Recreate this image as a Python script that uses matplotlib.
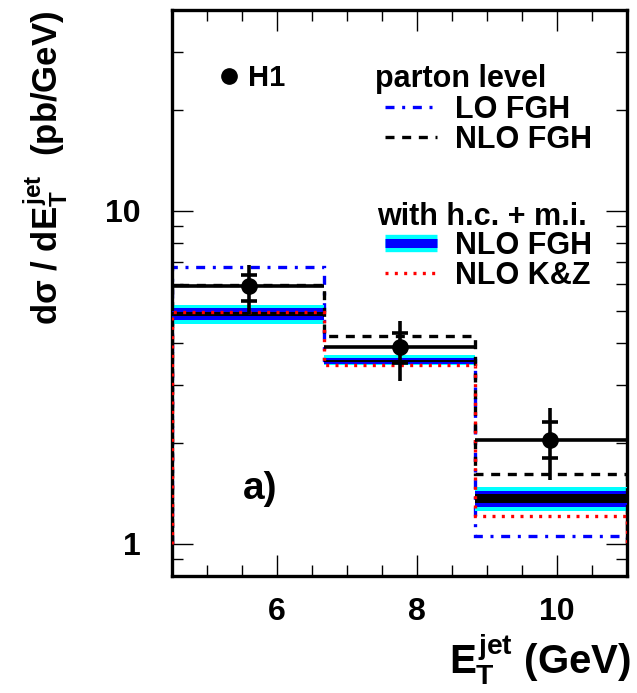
import matplotlib
matplotlib.use('Agg')
import matplotlib.pyplot as plt
from matplotlib.lines import Line2D
from matplotlib.legend_handler import HandlerTuple
from matplotlib.ticker import FixedLocator, LogLocator, NullFormatter, MultipleLocator

plt.rcParams['font.family'] = 'Liberation Sans'
plt.rcParams['font.weight'] = 'bold'
plt.rcParams['mathtext.fontset'] = 'custom'
plt.rcParams['mathtext.rm'] = 'Liberation Sans:bold'
plt.rcParams['mathtext.it'] = 'Liberation Sans:bold'
plt.rcParams['mathtext.bf'] = 'Liberation Sans:bold'

# bins in E_T^jet (GeV)
edges = [4.5, 6.67, 8.83, 11.0]

# H1 data
h1_x = [5.6, 7.75, 9.9]
h1_y = [5.92, 3.88, 2.05]
h1_stat_lo = [5.36, 3.48, 1.81]
h1_stat_hi = [6.42, 4.29, 2.31]
h1_tot_lo = [4.89, 3.07, 1.55]
h1_tot_hi = [6.88, 4.66, 2.55]

# parton level
lo_fgh = [6.77, 3.55, 1.053]
nlo_fgh = [5.98, 4.20, 1.62]

# with h.c. + m.i.
band_out_lo = [4.57, 3.44, 1.25]
band_out_hi = [5.20, 3.68, 1.48]
band_mid_lo = [4.69, 3.47, 1.29]
band_mid_hi = [5.08, 3.62, 1.44]
band_in_lo = [4.83, 3.51, 1.32]
band_in_hi = [4.97, 3.56, 1.41]
nlo_kz = [4.97, 3.43, 1.207]

fig = plt.figure(figsize=(6.37, 6.93), dpi=100)
ax = fig.add_axes([0.2705, 0.169, 0.7135, 0.8166])

lw = 2.4
ax.stairs(lo_fgh, edges, baseline=1, color='#0000ff', lw=lw,
          linestyle=(0, (2.7, 2.3, 0.9, 2.3)), zorder=2)
ax.stairs(band_out_hi, edges, baseline=band_out_lo, fill=True, color='#00ffff', lw=0, zorder=3)
ax.stairs(band_mid_hi, edges, baseline=band_mid_lo, fill=True, color='#0000ff', lw=0, zorder=3)
ax.stairs(band_in_hi, edges, baseline=band_in_lo, fill=True, color='black', lw=0, zorder=3)
ax.stairs(nlo_fgh, edges, baseline=1, color='black', lw=lw,
          linestyle=(0, (2.7, 2.3)), zorder=4)
ax.stairs(nlo_kz, edges, baseline=1, color='#ff0000', lw=lw,
          linestyle=(0, (0.9, 1.9)), zorder=4)

# data: horizontal bars over the bin, total and stat errors
xlo = [x - e for x, e in zip(h1_x, edges[:-1])]
xhi = [e - x for x, e in zip(h1_x, edges[1:])]
ax.errorbar(h1_x, h1_y, xerr=[xlo, xhi], fmt='none', ecolor='black',
            elinewidth=2.6, capsize=0, zorder=5)
tlo = [y - v for y, v in zip(h1_y, h1_tot_lo)]
thi = [v - y for y, v in zip(h1_y, h1_tot_hi)]
ax.errorbar(h1_x, h1_y, yerr=[tlo, thi], fmt='none', ecolor='black',
            elinewidth=2.6, capsize=0, zorder=5)
slo = [y - v for y, v in zip(h1_y, h1_stat_lo)]
shi = [v - y for y, v in zip(h1_y, h1_stat_hi)]
ax.errorbar(h1_x, h1_y, yerr=[slo, shi], fmt='none', ecolor='black',
            elinewidth=0, capsize=5.5, capthick=2.6, zorder=5)
ax.plot(h1_x, h1_y, 'o', color='black', ms=11, zorder=6)

ax.set_yscale('log')
ax.set_xlim(4.5, 11)
ax.set_ylim(0.8, 40)

ax.xaxis.set_major_locator(FixedLocator([6, 8, 10]))
ax.xaxis.set_minor_locator(MultipleLocator(0.5))
ax.yaxis.set_major_locator(FixedLocator([1, 10]))
ax.yaxis.set_minor_locator(LogLocator(base=10, subs=range(2, 10)))
ax.yaxis.set_minor_formatter(NullFormatter())
ax.set_yticklabels(['1', '10'])
ax.tick_params(which='both', direction='in', top=True, right=True,
               labelsize=23, width=1)
ax.tick_params(which='major', length=15)
ax.tick_params(which='minor', length=8)
ax.tick_params(axis='x', which='major', pad=15)
ax.tick_params(axis='y', which='major', pad=23)
for s in ax.spines.values():
    s.set_linewidth(2.4)

# legends
h_h1 = Line2D([], [], marker='o', color='black', ms=11, lw=0)
leg1 = ax.legend([h_h1], ['H1'], loc='upper left', bbox_to_anchor=(0.106, 0.905),
                 frameon=False, fontsize=21, handlelength=0.6, handletextpad=0.36,
                 borderpad=0, borderaxespad=0)
ax.add_artist(leg1)

h_lo = Line2D([], [], color='#0000ff', lw=lw, linestyle=(0, (2.7, 2.3, 0.9, 2.3)))
h_nlo = Line2D([], [], color='black', lw=lw, linestyle=(0, (2.7, 2.3)))
leg2 = ax.legend([h_lo, h_nlo], ['LO FGH', 'NLO FGH'], loc='upper left',
                 bbox_to_anchor=(0.468, 0.85), frameon=False, fontsize=22,
                 handlelength=1.7, handletextpad=0.6, labelspacing=0.0,
                 borderpad=0, borderaxespad=0)
ax.add_artist(leg2)

h_band = (Line2D([], [], color='#00ffff', lw=12.5, solid_capstyle='butt'),
          Line2D([], [], color='#0000ff', lw=6.5, solid_capstyle='butt'))
h_kz = Line2D([], [], color='#ff0000', lw=lw, linestyle=(0, (0.9, 1.9)))
ax.legend([h_band, h_kz], ['NLO FGH', 'NLO K&Z'], loc='upper left',
          bbox_to_anchor=(0.468, 0.61), frameon=False, fontsize=22,
          handlelength=1.7, handletextpad=0.6, labelspacing=0.0,
          borderpad=0, borderaxespad=0,
          handler_map={tuple: HandlerTuple(ndivide=1, pad=0)})

ax.text(0.446, 0.8645, 'parton level', transform=ax.transAxes, fontsize=22,
        va='baseline', ha='left')
ax.text(0.4505, 0.62, 'with h.c. + m.i.', transform=ax.transAxes, fontsize=22,
        va='baseline', ha='left')
ax.text(0.193, 0.154, 'a)', transform=ax.transAxes, fontsize=28,
        va='center', ha='center')

fig.text(0.072, 0.985, r'd$\sigma$ / d$E^{jet}_{T}$  (pb/GeV)', rotation=90,
         fontsize=25, ha='center', va='top')
fig.text(0.99, 0.008, r'$E^{jet}_{T}$ (GeV)', fontsize=29, ha='right', va='bottom')

fig.savefig('out.png', dpi=100)
